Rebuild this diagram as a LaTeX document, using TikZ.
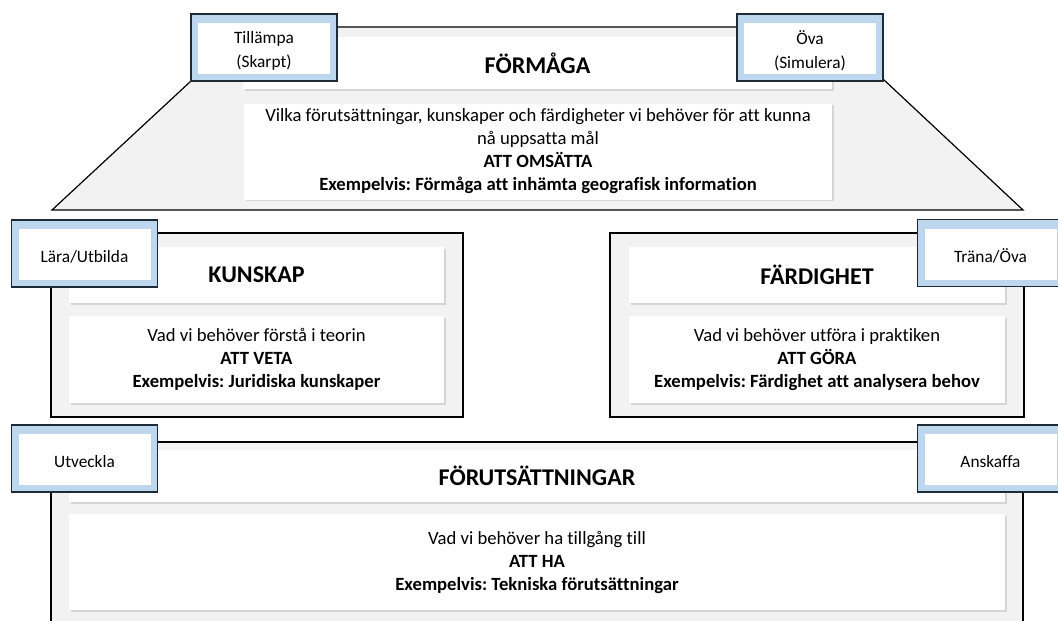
\documentclass[tikz,border=0pt]{standalone}
\usepackage{fontspec}
\setmainfont{Carlito}[Ligatures=NoCommon]
\frenchspacing
\usetikzlibrary{shadows}
\definecolor{blockgray}{HTML}{F2F2F2}
\definecolor{tagblue}{HTML}{BDD7EE}
\definecolor{tagline}{HTML}{1E2A36}
\begin{document}
\begin{tikzpicture}[x=0.75pt, y=-0.75pt,
    block/.style 2 args={draw=black, line width=0.9pt, fill=blockgray, inner sep=0pt,
      minimum width=#1*0.75pt, minimum height=#2*0.75pt},
    panel/.style 2 args={fill=white, inner sep=0pt, align=center,
      minimum width=#1*0.75pt, minimum height=#2*0.75pt,
      drop shadow={shadow xshift=1.2pt, shadow yshift=-1.2pt, opacity=0.25},
      font=\fontsize{14}{17.25}\selectfont},
    titletext/.style={font=\fontsize{18}{20}\selectfont\bfseries},
    tagframe/.style={draw=tagline, line width=1.2pt, fill=tagblue,
      minimum width=109.5pt, minimum height=50.25pt},
    tagtext/.style={fill=white, inner sep=0pt, align=center,
      minimum width=99pt, minimum height=38.25pt,
      font=\fontsize{13}{17.5}\selectfont}]
    \clip (0,0) rectangle (1058,621);
    % upper level, the trapezoid
    \draw[line width=0.9pt, fill=blockgray] (52,210) -- (191,81) -- (191,27)
      -- (883,27) -- (883,79) -- (1023,210) -- cycle;
    \node[panel={589}{52}, titletext] (formaga) at (537.5,63) {FÖRMÅGA};
    \node[panel={588}{96}] (formagatext) at (538,151.5)
      {Vilka förutsättningar, kunskaper och färdigheter vi behöver för att kunna\\
       nå uppsatta mål\\ \textbf{ATT OMSÄTTA}\\
       \textbf{Exempelvis: Förmåga att inhämta geografisk information}};
    % middle level
    \node[block={412}{184}] (kunskapblock) at (257,325) {};
    \node[panel={375}{56}, titletext] (kunskap) at (256.5,275) {KUNSKAP};
    \node[panel={375}{87}] (kunskaptext) at (256.5,359.5)
      {Vad vi behöver förstå i teorin\\ \textbf{ATT VETA}\\
       \textbf{Exempelvis: Juridiska kunskaper}};
    \node[block={414}{184}] (fardighetblock) at (817,325) {};
    \node[panel={376}{56}, titletext] (fardighet) at (817,275) {FÄRDIGHET};
    \node[panel={376}{87}] (fardighettext) at (817,359.5)
      {Vad vi behöver utföra i praktiken\\ \textbf{ATT GÖRA}\\
       \textbf{Exempelvis: Färdighet att analysera behov}};
    % lower level
    \node[block={972}{220}] (forutblock) at (537,552) {};
    \node[panel={936}{52}, titletext] (forut) at (537,476) {FÖRUTSÄTTNINGAR};
    \node[panel={936}{96}] (foruttext) at (537,562)
      {Vad vi behöver ha tillgång till\\ \textbf{ATT HA}\\
       \textbf{Exempelvis: Tekniska förutsättningar}};
    % tags
    \foreach \name/\x/\y/\txt in {tillampa/264/47.5/{Tillämpa\\(Skarpt)},
        ova/810/47.5/{Öva\\(Simulera)}, lara/84.5/253.5/{Lära/Utbilda},
        trana/990.5/253/{Träna/Öva}, utveckla/84.5/458.5/{Utveckla},
        anskaffa/990.5/458.5/{Anskaffa}}{
      \node[tagframe] (\name frame) at (\x,\y) {};
      \node[tagtext] (\name) at ([yshift=-1pt]\name frame.center) {};
      \node[font=\fontsize{13}{17.5}\selectfont, align=center] (\name label)
        at ([yshift=-2.5pt]\name frame.center) {\txt};
    }
\end{tikzpicture}
\end{document}
